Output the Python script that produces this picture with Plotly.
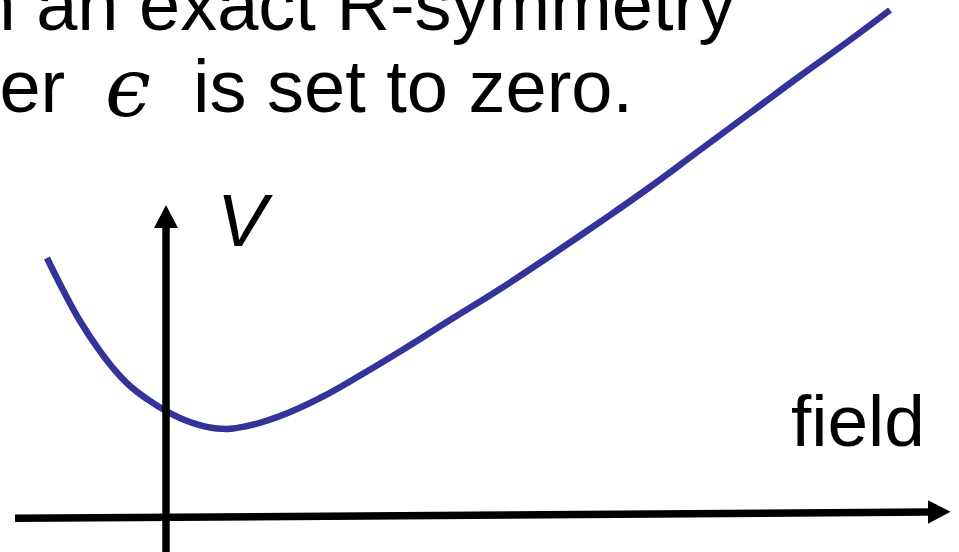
import plotly.graph_objects as go

# ---- data (arbitrary units, origin at the axes crossing) ----
field = [-1.19, -1.03, -0.86, -0.69, -0.53, -0.36, -0.19, 0.00, 0.24, 0.51, 0.79,
         1.14, 1.54, 1.94, 2.34, 2.84, 3.34, 3.84, 4.34, 4.84, 5.34, 5.84, 6.34, 6.84, 7.24]
V = [2.59, 2.27, 1.96, 1.70, 1.49, 1.31, 1.18, 1.06, 0.95, 0.885, 0.905,
     1.01, 1.19, 1.415, 1.655, 1.97, 2.28, 2.61, 2.95, 3.30, 3.67, 4.04, 4.41, 4.77, 5.07]

line1_text = "in an exact R-symmetry"
line2_left = "parameter"
eps_text = "ϵ"
line2_right = "is set to zero."
y_label = "V"
x_label = "field"

W, H = 959, 552
X_RANGE = [-1.66, 7.93]
Y_RANGE = [-0.35, 5.17]

CURVE_COLOR = "#333399"
SANS = "Arial, 'Liberation Sans', sans-serif"
SERIF = "'DejaVu Serif', serif"


def px(xp):
    return xp / W


def py(yp):
    return 1 - yp / H


def bottom_for_baseline(baseline, size):
    # bottom of the annotation box for a text whose baseline sits at `baseline` px
    return py(baseline + 0.212 * size + 1)


fig = go.Figure()
fig.add_trace(go.Scatter(x=field, y=V, mode="lines",
                         line=dict(color=CURVE_COLOR, width=6.5, shape="spline", smoothing=1.3),
                         hoverinfo="skip", showlegend=False))

shapes = [
    # vertical axis
    dict(type="line", xref="x", yref="y", x0=0, y0=Y_RANGE[0], x1=0, y1=2.91,
         line=dict(color="black", width=7.5)),
    dict(type="path", xref="x", yref="y", path="M -0.12 2.89 L 0 3.12 L 0.12 2.89 Z",
         fillcolor="black", line=dict(width=0)),
    # horizontal axis (slightly tilted as in the original)
    dict(type="line", xref="x", yref="y", x0=-1.51, y0=-0.013, x1=7.64, y1=0.05,
         line=dict(color="black", width=7.5)),
    dict(type="path", xref="x", yref="y", path="M 7.62 0.167 L 7.845 0.053 L 7.62 -0.067 Z",
         fillcolor="black", line=dict(width=0)),
]

annotations = [
    dict(text=line1_text, xref="paper", yref="paper", x=px(737), y=bottom_for_baseline(31, 74),
         xanchor="right", yanchor="bottom", showarrow=False,
         font=dict(family=SANS, size=74, color="black")),
    dict(text=line2_left, xref="paper", yref="paper", x=px(67), y=bottom_for_baseline(113, 74),
         xanchor="right", yanchor="bottom", showarrow=False,
         font=dict(family=SANS, size=74, color="black")),
    dict(text="<i>" + eps_text + "</i>", xref="paper", yref="paper", x=px(128), y=py(87),
         xanchor="center", yanchor="middle", showarrow=False,
         font=dict(family=SERIF, size=82, color="black")),
    dict(text=line2_right, xref="paper", yref="paper", x=px(191), y=bottom_for_baseline(113, 74),
         xanchor="left", yanchor="bottom", showarrow=False,
         font=dict(family=SANS, size=74, color="black")),
    dict(text="<i>" + y_label + "</i>", xref="paper", yref="paper", x=px(245), y=bottom_for_baseline(247, 75),
         xanchor="center", yanchor="bottom", showarrow=False,
         font=dict(family=SANS, size=75, color="black")),
    dict(text=x_label, xref="paper", yref="paper", x=px(789), y=bottom_for_baseline(447, 73),
         xanchor="left", yanchor="bottom", showarrow=False,
         font=dict(family=SANS, size=73, color="black")),
]

fig.update_layout(
    width=W, height=H,
    margin=dict(l=0, r=0, t=0, b=0),
    paper_bgcolor="white", plot_bgcolor="white",
    xaxis=dict(range=X_RANGE, visible=False, fixedrange=True),
    yaxis=dict(range=Y_RANGE, visible=False, fixedrange=True),
    shapes=shapes,
    annotations=annotations,
    showlegend=False,
)

fig.write_html("out.html", config={"displayModeBar": False},
               post_script="document.body.style.margin='0';document.body.style.overflow='hidden';")
